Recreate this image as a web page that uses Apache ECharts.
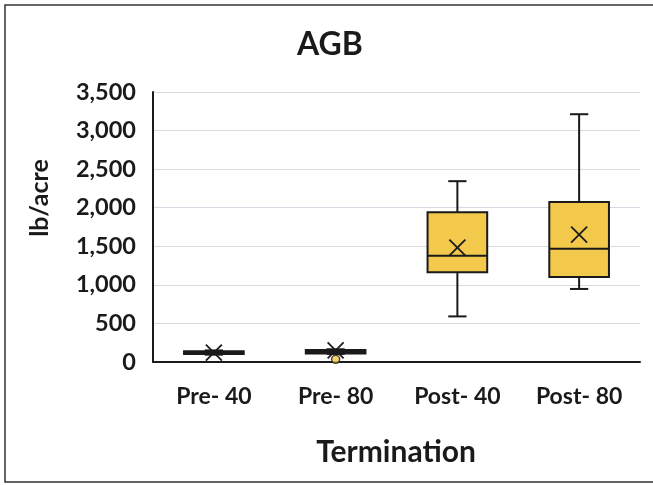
<!DOCTYPE html>
<html>
<head>
<meta charset="utf-8">
<script src="https://cdn.jsdelivr.net/npm/echarts@6/dist/echarts.min.js"></script>
<style>html,body{margin:0;padding:0;background:#fff}#c{width:653px;height:485px}</style>
</head>
<body>
<div id="c"></div>
<script>
const categories = ['Pre- 40', 'Pre- 80', 'Post- 40', 'Post- 80'];
const minVals = [95, 105, 591, 947];
const q1Vals = [105, 110, 1164, 1103];
const medianVals = [120, 130, 1376, 1467];
const q3Vals = [140, 155, 1940, 2075];
const maxVals = [150, 165, 2344, 3212];
const meanVals = [122, 150, 1484, 1650];
const outlierPoints = [[1, 35]];
const yTicks = [0, 500, 1000, 1500, 2000, 2500, 3000, 3500];

const boxData = categories.map((c, i) => [i, minVals[i], q1Vals[i], medianVals[i], q3Vals[i], maxVals[i], meanVals[i]]);

const FONT = 'Lato';
const INK = '#1a1a1a';
const FILL = '#F2C94A';

function renderBox(params, api) {
  const i = api.value(0);
  const band = api.size([1, 0])[0];
  const half = band * 0.245;
  const cap = band * 0.075;
  const cx = api.coord([i, 0])[0];
  const y = k => api.coord([i, api.value(k)])[1];
  const yMin = y(1), yQ1 = y(2), yMed = y(3), yQ3 = y(4), yMax = y(5), yMean = y(6);
  const ls = { stroke: INK, lineWidth: 2 };
  const xs = { stroke: INK, lineWidth: 1.8 };
  const m = 8;
  return {
    type: 'group',
    children: [
      { type: 'line', shape: { x1: cx, y1: yQ3, x2: cx, y2: yMax }, style: ls },
      { type: 'line', shape: { x1: cx - cap, y1: yMax, x2: cx + cap, y2: yMax }, style: ls },
      { type: 'line', shape: { x1: cx, y1: yQ1, x2: cx, y2: yMin }, style: ls },
      { type: 'line', shape: { x1: cx - cap, y1: yMin, x2: cx + cap, y2: yMin }, style: ls },
      { type: 'rect', shape: { x: cx - half, y: yQ3, width: half * 2, height: Math.max(yQ1 - yQ3, 1) }, style: { fill: FILL, stroke: INK, lineWidth: 2 } },
      { type: 'line', shape: { x1: cx - half, y1: yMed, x2: cx + half, y2: yMed }, style: ls },
      { type: 'line', shape: { x1: cx - m, y1: yMean - m, x2: cx + m, y2: yMean + m }, style: xs },
      { type: 'line', shape: { x1: cx - m, y1: yMean + m, x2: cx + m, y2: yMean - m }, style: xs }
    ]
  };
}

const chart = echarts.init(document.getElementById('c'));
chart.setOption({
  backgroundColor: '#fff',
  animation: false,
  grid: { left: 153, right: 13, top: 92, bottom: 123, containLabel: false },
  xAxis: {
    type: 'category',
    data: categories,
    axisLine: { lineStyle: { color: INK, width: 2 } },
    axisTick: { show: false },
    axisLabel: { fontFamily: FONT, fontWeight: 'bold', fontSize: 23, color: INK, margin: 23 },
    splitLine: { show: false }
  },
  yAxis: {
    type: 'value',
    min: yTicks[0],
    max: yTicks[yTicks.length - 1],
    interval: 500,
    axisLine: { show: true, lineStyle: { color: INK, width: 2 } },
    axisTick: { show: false },
    axisLabel: {
      fontFamily: FONT, fontWeight: 'bold', fontSize: 23.5, color: INK, margin: 17,
      formatter: v => v.toLocaleString('en-US')
    },
    splitLine: { lineStyle: { color: '#d5dae3', width: 1 } }
  },
  series: [
    {
      type: 'custom',
      renderItem: renderBox,
      data: boxData,
      encode: { x: 0, y: [1, 5] },
      z: 3
    },
    {
      type: 'scatter',
      data: outlierPoints,
      symbol: 'circle',
      symbolSize: 8,
      itemStyle: { color: FILL, borderColor: INK, borderWidth: 1.5 },
      z: 4
    }
  ],
  graphic: [
    { type: 'rect', shape: { x: 5, y: 5, width: 700, height: 477 }, style: { fill: 'none', stroke: '#333', lineWidth: 1.5 }, z: -1 },
    { type: 'text', x: 330, y: 45, style: { text: 'AGB', font: 'bold 32px Lato', fill: INK, textAlign: 'center', textVerticalAlign: 'middle' } },
    { type: 'text', x: 40, y: 198, rotation: Math.PI / 2, style: { text: 'lb/acre', font: 'bold 25px Lato', fill: INK, textAlign: 'center', textVerticalAlign: 'middle' } },
    { type: 'text', x: 396, y: 452, style: { text: 'Termination', font: 'bold 30px Lato', fill: INK, textAlign: 'center', textVerticalAlign: 'middle' } }
  ]
});
</script>
</body>
</html>
